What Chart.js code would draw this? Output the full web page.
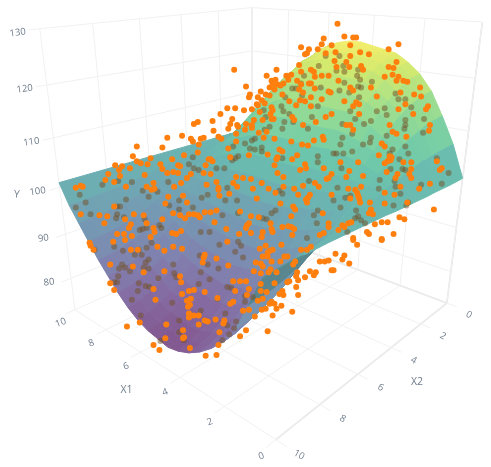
<!DOCTYPE html>
<html lang="en">
<head>
    <meta charset="UTF-8" />
    <title>Surface and samples</title>
    <script src="https://cdn.jsdelivr.net/npm/chart.js"></script>
    <style>
        html, body { margin: 0; background: #fff; }
        canvas { display: block; filter: blur(.5px); }
    </style>
</head>
<body>
    <canvas id="chart" width="491" height="467"></canvas>

    <script>
        const x1Ticks = [0, 2, 4, 6, 8, 10];
        const x2Ticks = [0, 2, 4, 6, 8, 10];
        const yTicks = [80, 90, 100, 110, 120, 130];
        const x1Grid = [0, .5, 1, 1.5, 2, 2.5, 3, 3.5, 4, 4.5, 5, 5.5, 6, 6.5, 7, 7.5, 8, 8.5, 9, 9.5, 10];
        const x2Grid = [0, .5, 1, 1.5, 2, 2.5, 3, 3.5, 4, 4.5, 5, 5.5, 6, 6.5, 7, 7.5, 8, 8.5, 9, 9.5, 10];

        // surface height, one row per x2Grid value, one column per x1Grid value
        const surfaceY = [
            [100.5,107,112,116.5,119.5,121.5,123,123.5,124,124.5,124.5,124,123,121,118.5,115,111,107,104,102,101],
            [100.5,106.9,111.8,116.2,119.2,121.1,122.6,123.1,123.5,124,124,123.5,122.5,120.5,118,115,111,107,104,102,101],
            [100.5,106.8,111.5,115.7,118.5,120.3,121.7,122.2,122.5,123,123,122.5,121.5,120,117.5,114,110.5,106.5,103.5,102,101],
            [100.6,106.6,110.9,114.8,117.4,119.2,120.5,120.8,121.2,121.7,121.7,121.3,120.4,118.6,116.4,113.2,109.6,106,103.4,101.7,101],
            [100.7,106.3,110.2,113.7,116,117.6,118.8,119.1,119.4,119.8,119.9,119.5,118.7,117,115,112,108.7,105.4,103,101.5,101],
            [100.7,105.9,109.3,112.3,114.3,115.7,116.6,116.8,117.1,117.4,117.5,117.2,116.5,115,113.2,110.6,107.5,104.6,102.5,101.2,101],
            [100.8,105.4,108.2,110.6,112.3,113.3,114.1,114.2,114.3,114.6,114.7,114.4,113.9,112.6,111,108.8,106.2,103.6,101.9,101,101],
            [100.9,104.9,107,108.7,109.8,110.6,111.1,111,111.1,111.3,111.5,111.3,110.8,109.8,108.6,106.7,104.6,102.5,101.2,100.6,101],
            [101,104.4,105.7,106.7,107.4,107.9,108.1,107.9,107.9,108,108.2,108.1,107.8,107,106.1,104.7,102.9,101.4,100.5,100.2,101],
            [101.1,103.8,104.3,104.5,104.7,104.7,104.7,104.4,104.2,104.3,104.5,104.4,104.3,103.8,103.2,102.3,101.1,100.1,99.7,99.8,101],
            [101.3,103.3,103,102.5,102.3,102,101.8,101.3,101,101,101.2,101.2,101.2,101,100.7,100.2,99.5,99,99,99.5,101],
            [101.4,102.7,101.7,100.5,99.8,99.3,98.8,98.1,97.8,97.7,98,98.1,98.2,98.2,98.3,98.2,97.9,97.9,98.3,99.1,101],
            [101.5,102.1,100.3,98.3,97.1,96.2,95.4,94.6,94.1,93.9,94.3,94.4,94.7,95,95.4,95.8,96,96.6,97.5,98.7,101],
            [101.6,101.6,99,96.3,94.7,93.4,92.4,91.5,90.9,90.7,91,91.2,91.7,92.2,92.9,93.8,94.4,95.5,96.8,98.4,101],
            [101.7,101.1,97.8,94.4,92.2,90.7,89.4,88.3,87.7,87.4,87.8,88.1,88.6,89.4,90.5,91.7,92.8,94.4,96.1,98,101],
            [101.8,100.6,96.7,92.7,90.2,88.4,86.9,85.7,84.9,84.5,85,85.3,86,87,88.3,89.9,91.4,93.4,95.5,97.7,101],
            [101.9,100.3,95.8,91.3,88.5,86.4,84.8,83.5,82.6,82.2,82.6,83,83.8,85,86.5,88.4,90.3,92.6,95,97.5,101],
            [101.9,100,95.1,90.2,87.1,84.8,83,81.7,80.8,80.3,80.8,81.2,82.1,83.4,85.1,87.3,89.4,92,94.6,97.3,101],
            [102,99.7,94.5,89.3,86,83.7,81.8,80.3,79.4,78.9,79.4,79.9,80.8,82.2,84.1,86.4,88.7,91.5,94.3,97.2,101],
            [102,99.6,94.2,88.8,85.3,82.9,80.9,79.4,78.5,78,78.5,79,80,81.4,83.4,85.8,88.2,91.2,94.1,97,101],
            [102,99.5,94,88.5,85,82.5,80.5,79,78,77.5,78,78.5,79.5,81,83,85.5,88,91,94,97,101]
        ];

        const frontSamples = [
            [234,67],[267,73],[277,67],[246,84],[302,44],[310,46],[319,46],[323,41],[325,35],[333,42],[327,50],[306,51],[308,50],[300,62],[287,73],[292,72],[289,77],
            [272,78],[276,77],[273,82],[278,82],[270,85],[275,87],[281,83],[284,81],[261,89],[250,92],[249,95],[258,95],[266,92],[270,93],[262,98],[257,102],[265,101],[258,103],
            [220,112],[227,106],[235,106],[244,108],[252,107],[272,105],[273,108],[271,112],[260,110],[197,120],[212,119],[232,117],[230,122],[237,123],[246,122],[254,118],[252,123],[263,118],[272,117],
            [312,67],[315,69],[302,69],[323,73],[316,74],[330,73],[310,81],[312,81],[316,86],[298,78],[302,82],[300,87],[330,89],[332,90],[283,92],[304,90],[312,95],[290,99],[301,98],[306,99],[323,97],[312,104],[297,103],[274,117],[293,115],[295,118],[327,115],[317,120],[333,112],[304,123],
            [339,20],[346,33],[355,34],[358,34],[352,42],[391,46],[401,41],[337,49],[362,49],[371,51],[352,53],[399,59],[348,59],[336,58],[338,64],[351,64],[363,63],[365,67],[391,64],[396,65],[395,72],[387,74],[401,74],[399,78],[406,78],[410,79],[340,78],[423,85],[352,85],[373,85],[355,88],[403,90],[417,92],[424,94],[379,94],[346,99],[358,100],[361,102],[355,104],[408,102],[431,104],[429,107],[401,107],[361,112],[416,112],[433,123],[392,123],[352,123],[348,123],[193,122],
            [166,136],[181,134],[190,137],[192,140],[135,145],[161,146],[131,155],[135,160],[139,162],[149,157],[146,163],[171,158],[183,154],[113,164],[120,165],[128,167],[117,169],[159,163],[161,168],[118,175],[106,173],[103,179],[112,181],[143,174],[166,172],[172,171],[177,164],[179,165],[177,172],[190,173],[186,177],[180,182],[152,182],[173,186],[145,186],[153,188],[150,189],[124,186],[78,185],[80,186],[73,187],[167,196],[182,195],[186,202],[164,203],[112,206],[78,214],[172,213],[97,215],[105,216],[132,214],[142,215],[123,219],[161,219],[179,215],[188,214],[193,214],[184,218],[102,223],[145,223],[129,224],[127,228],[152,228],[153,232],[115,234],[122,234],[130,236],[149,237],[171,233],[175,234],[180,231],
            [213,129],[200,137],[203,136],[198,143],[197,151],[228,127],[238,125],[245,128],[252,126],[236,132],[218,135],[221,137],[228,147],[236,140],[259,131],[267,130],[264,136],[275,137],[292,140],[303,143],[309,144],[324,135],[325,138],[315,139],[280,148],[283,150],[268,153],[249,154],[298,154],[293,158],[278,156],[277,158],[275,164],[210,158],[212,160],[208,158],[230,156],[205,164],[203,172],[210,173],[325,167],[306,163],[307,167],[301,169],[278,172],[284,176],[236,176],[243,177],[251,178],[233,182],[216,181],[206,184],[218,187],[218,189],[262,182],[253,188],[237,186],[269,188],[284,186],[295,188],[304,185],[316,182],[320,186],[328,178],[330,177],[333,173],[276,192],[229,193],[219,195],[257,198],[299,194],[311,194],[309,197],[307,199],[308,202],[333,194],[281,203],[294,206],[296,209],[204,212],[210,212],[197,215],[199,217],[216,210],[240,211],[251,216],[259,217],[292,216],[324,213],[214,222],[249,223],[247,225],[246,228],[226,229],[271,223],[272,229],[273,232],[283,227],[289,226],[292,227],[295,229],[330,223],[330,227],[239,234],[251,233],[263,232],[262,237],[293,235],[321,235],[325,233],
            [355,128],[395,130],[399,132],[409,135],[432,129],[384,142],[387,145],[381,154],[392,155],[394,156],[392,158],[393,159],[390,160],[387,162],[406,161],[414,161],[342,161],[360,161],[440,160],[445,167],[443,169],[389,171],[414,168],[412,173],[414,177],[351,170],[348,176],[365,175],[400,173],[398,177],[403,186],[363,186],[350,188],[357,189],[359,192],[360,195],[361,198],[362,202],[387,192],[397,194],[422,188],[433,183],[352,198],[372,202],[387,203],[373,209],[371,213],[375,214],[437,209],[402,217],[407,219],[410,202],[350,223],[353,222],[344,225],[346,227],[377,224],[384,222],[390,222],[340,230],[396,234],[369,232],[371,234],[355,238],[384,239],
            [87,243],[88,246],[91,250],[111,242],[123,240],[129,250],[136,250],[156,247],[163,251],[172,247],[181,249],[108,265],[131,267],[142,273],[163,272],[179,277],[180,283],[108,284],[112,291],[152,290],[188,292],[193,291],[181,295],[154,301],[186,302],[190,300],[189,306],[187,308],[188,315],[188,319],[193,317],[165,326],[182,332],[125,328],[138,324],[183,339],[182,340],[164,340],[189,350],[152,347],[158,352],
            [227,242],[282,245],[266,246],[260,249],[273,250],[268,253],[270,251],[263,257],[268,257],[272,262],[285,257],[288,257],[281,262],[302,250],[308,250],[312,247],[296,262],[294,265],[216,259],[204,255],[203,258],[202,263],[228,266],[256,263],[261,264],[263,267],[271,270],[269,273],[277,273],[254,272],[261,274],[298,273],[297,277],[233,282],[240,282],[246,282],[261,285],[261,292],[235,292],[249,290],[247,296],[204,293],[217,299],[267,293],[263,300],[258,302],[275,284],[288,283],[290,282],[297,288],[299,296],[283,292],[284,296],[280,295],[272,303],[275,305],[277,310],[270,305],[282,307],[262,311],[266,310],[293,313],[273,317],[249,311],[243,312],[255,318],[233,303],[230,305],[198,317],[198,326],[204,322],[207,323],[215,321],[224,322],[223,325],[219,334],[246,332],[240,338],[268,333],[218,347],[205,358],[216,357],
            [306,278],[311,272],[317,273],[315,276],[299,281],[321,262],[326,262],[330,261],[333,271],[337,254],[346,256],[344,260],[351,264],[355,240],[359,245],[384,240],[335,271]
        ];

        // samples under the surface, they show through it
        const hiddenSamples = [
            [320,63],[305,73],[302,81],[293,86],[297,86],[286,95],[303,93],[322,85],[282,104],[284,109],[290,112],[319,104],[313,115],[264,108],[266,115],[285,120],[294,120],[327,53],
            [341,53],[345,63],[338,68],[346,69],[360,67],[359,73],[362,77],[346,80],[374,79],[360,84],[363,85],[341,88],[351,90],[398,91],[401,97],[408,97],[361,95],[387,106],[414,105],[352,109],[379,109],[389,113],[357,117],[373,119],[366,122],[344,122],[427,117],[408,118],[408,123],
            [192,156],[188,163],[193,167],[116,180],[100,184],[130,181],[167,181],[77,194],[83,202],[73,207],[124,199],[141,190],[156,191],[147,196],[178,200],[118,206],[115,206],[88,214],[115,214],[114,218],[122,217],[143,219],[158,225],[168,205],[178,209],[192,207],[138,230],[141,229],[145,228],[160,228],
            [245,142],[233,145],[250,147],[255,148],[262,146],[238,155],[235,157],[232,159],[262,150],[224,167],[198,169],[216,167],[201,197],[207,194],[227,187],[225,200],[237,200],[280,190],[283,193],[319,161],[319,155],[310,180],[283,157],[222,215],[200,232],[209,232],[238,213],[276,210],[272,213],[267,219],[263,218],[315,215],[319,210],[318,223],[308,238],[309,127],[283,127],[270,125],[265,128],[252,139],[255,137],
            [344,136],[354,132],[389,134],[407,127],[426,131],[373,136],[372,141],[365,143],[342,143],[338,152],[335,152],[354,150],[345,152],[395,148],[392,152],[408,145],[411,152],[402,158],[343,167],[393,168],[405,168],[408,169],[452,172],[440,157],[382,179],[397,180],[398,186],[445,183],[424,184],[339,187],[381,188],[403,193],[347,197],[411,202],[409,205],[342,207],[396,205],[358,210],[360,216],[357,218],[363,220],[367,223],[349,232],[352,195],[335,200],
            [92,250],[112,247],[121,251],[133,255],[140,255],[137,250],[145,248],[150,243],[120,265],[123,268],[128,272],[117,269],[147,260],[144,263],[142,268],[147,269],[172,265],[173,274],[175,278],[116,277],[115,283],[112,283],[157,279],[137,284],[144,287],[148,288],[136,292],[130,301],[171,304],[139,317],[178,322],[178,334],[159,343],[183,342],
            [219,245],[235,252],[243,258],[199,256],[207,265],[200,273],[218,269],[209,280],[198,285],[227,288],[231,289],[253,298],[245,303],[217,300],[200,312],[225,315],[236,323],[234,330],[229,336],[222,342],[238,242],[241,246],[245,297],[227,327]
        ];

        const yFloor = 72.5, yTop = 130;

        // box corners as seen in the picture: x1, x2, y, then view plane x, y
        const boxCorners = [
            [10, 10, yFloor, 74, 313], [10, 10, yTop, 37, 23],
            [0, 0, yFloor, 452, 303], [0, 0, yTop, 487, 20],
            [0, 10, yFloor, 273, 443],
            [10, 0, yFloor, 252, 230], [10, 0, yTop, 251, 4]
        ];

        // fit the camera to the corners (least squares, normal equations)
        function fitCamera() {
            const ata = Array.from({ length: 11 }, () => Array(12).fill(0));
            const add = (row, b) => {
                for (let i = 0; i < 11; i++) {
                    for (let j = 0; j < 11; j++) ata[i][j] += row[i] * row[j];
                    ata[i][11] += row[i] * b;
                }
            };
            boxCorners.forEach(([a, b, c, u, v]) => {
                const p = [a / 10, b / 10, (c - 100) / 30];
                u /= 500; v /= 500;
                add([p[0], p[1], p[2], 1, 0, 0, 0, 0, -u * p[0], -u * p[1], -u * p[2]], u);
                add([0, 0, 0, 0, p[0], p[1], p[2], 1, -v * p[0], -v * p[1], -v * p[2]], v);
            });
            for (let i = 0; i < 11; i++) {
                let best = i;
                for (let r = i + 1; r < 11; r++) if (Math.abs(ata[r][i]) > Math.abs(ata[best][i])) best = r;
                [ata[i], ata[best]] = [ata[best], ata[i]];
                for (let r = 0; r < 11; r++) {
                    if (r === i) continue;
                    const f = ata[r][i] / ata[i][i];
                    for (let c = i; c < 12; c++) ata[r][c] -= f * ata[i][c];
                }
            }
            return ata.map((row, i) => row[11] / row[i]);
        }
        const cam = fitCamera();

        function project(x1, x2, y) {
            const a = x1 / 10, b = x2 / 10, c = (y - 100) / 30;
            const w = cam[8] * a + cam[9] * b + cam[10] * c + 1;
            return {
                x: 500 * (cam[0] * a + cam[1] * b + cam[2] * c + cam[3]) / w,
                y: 500 * (cam[4] * a + cam[5] * b + cam[6] * c + cam[7]) / w,
                w
            };
        }

        const viridis = [[68,1,84],[72,36,117],[65,68,135],[53,95,141],[42,120,142],[33,145,140],[34,168,132],[68,191,112],[122,209,81],[189,223,38],[253,231,37]];
        function surfaceColor(y, back) {
            const t = Math.min(.999, Math.max(0, (y - 77) / 48.5)) * 10;
            const i = Math.floor(t), f = t - i;
            // only the teal fold near the front edge reads darker
            const k = back && y > 94 ? .8 : 1;
            const c = viridis[i].map((v, n) => k * (.67 * (v + (viridis[i + 1][n] - v) * f) + .33 * 255));
            return `rgb(${c.map(Math.round).join(',')})`;
        }

        // surface cells, far ones first
        const cells = [];
        for (let j = 0; j < x2Grid.length - 1; j++) {
            for (let i = 0; i < x1Grid.length - 1; i++) {
                const q = [[i, j], [i + 1, j], [i + 1, j + 1], [i, j + 1]].map(([a, b]) => project(x1Grid[a], x2Grid[b], surfaceY[b][a]));
                const area = q.reduce((s, p, n) => s + p.x * q[(n + 1) % 4].y - q[(n + 1) % 4].x * p.y, 0);
                const mean = (surfaceY[j][i] + surfaceY[j][i + 1] + surfaceY[j + 1][i] + surfaceY[j + 1][i + 1]) / 4;
                cells.push({ q, w: q.reduce((s, p) => s + p.w, 0) / 4, color: surfaceColor(mean, area > 0) });
            }
        }
        cells.sort((a, b) => a.w - b.w);

        const line = (from, to, color, width) => ({
            data: [project(...from), project(...to)].map(p => ({ x: p.x, y: p.y })),
            showLine: true, pointRadius: 0, borderColor: color, borderWidth: width, fill: false
        });

        const wallLines = [];
        const thin = '#f1f1f1', edge = '#e0e0e0';
        x1Ticks.forEach(t => {
            wallLines.push(line([t, 0, yFloor], [t, 10.4, yFloor], thin, 1));
            wallLines.push(line([t, 0, yFloor], [t, 0, yTop], thin, 1));
        });
        x2Ticks.forEach(t => {
            wallLines.push(line([0 - .4, t, yFloor], [10, t, yFloor], thin, 1));
            wallLines.push(line([10, t, yFloor], [10, t, yTop], thin, 1));
        });
        yTicks.forEach(t => {
            wallLines.push(line([10, 10.4, t], [10, 0, t], thin, 1));
            wallLines.push(line([10, 0, t], [0, 0, t], thin, 1));
        });
        wallLines.push(line([0, 0, yFloor], [0, 10, yFloor], edge, 1.5));
        wallLines.push(line([0, 0, yFloor], [10, 0, yFloor], edge, 1.5));
        wallLines.push(line([0, 0, yFloor], [0, 0, yTop], edge, 1.5));
        wallLines.push(line([10, 0, yFloor], [10, 0, yTop], edge, 1.5));

        // first dataset ends up on top
        const datasets = [
            { data: frontSamples.map(([x, y]) => ({ x, y })), pointRadius: 3, pointBackgroundColor: '#ff7f0e', pointBorderWidth: 0 },
            { data: hiddenSamples.map(([x, y]) => ({ x, y })), pointRadius: 3, pointBackgroundColor: 'rgba(115,80,35,.5)', pointBorderWidth: 0 }
        ];
        cells.forEach(c => datasets.push({
            data: [...c.q, c.q[0]].map(p => ({ x: p.x, y: p.y })),
            showLine: true, pointRadius: 0, borderColor: c.color, borderWidth: 1, backgroundColor: c.color, fill: 'shape'
        }));
        datasets.push(...wallLines);

        const axisText = {
            id: 'axisText',
            afterDraw(chart) {
                const { ctx, scales: { x, y } } = chart;
                const put = (text, p, dx, dy, angle, font) => {
                    ctx.save();
                    ctx.translate(x.getPixelForValue(p.x) + dx, y.getPixelForValue(p.y) + dy);
                    ctx.rotate(angle * Math.PI / 180);
                    ctx.font = font;
                    ctx.fillStyle = '#6f7c8c';
                    ctx.textAlign = 'center';
                    ctx.textBaseline = 'middle';
                    ctx.fillText(text, 0, 0);
                    ctx.restore();
                };
                const tickFont = '9.5px "Open Sans"', titleFont = '10.5px "Open Sans"';
                x1Ticks.forEach(t => put(String(t), project(t, 10.4, yFloor), -5, 9, -20, tickFont));
                x2Ticks.forEach(t => put(String(t), project(-.4, t, yFloor), 12, 8, 28, tickFont));
                yTicks.forEach(t => put(String(t), project(10, 10, t), -22, 4, -8, tickFont));
                put('X1', project(5, 10, yFloor), -33, 26, 0, titleFont);
                put('X2', project(0, 5, yFloor), 42, 22, 0, titleFont);
                put('Y', project(10, 10, 100), -43, 7, 5, titleFont);
            }
        };

        new Chart(document.getElementById('chart'), {
            type: 'scatter',
            data: { datasets },
            options: {
                responsive: false,
                animation: false,
                events: [],
                layout: { padding: 0 },
                plugins: { legend: { display: false }, tooltip: { enabled: false } },
                scales: {
                    x: { type: 'linear', display: false, min: 0, max: 491 },
                    y: { type: 'linear', display: false, min: 0, max: 467, reverse: true }
                }
            },
            plugins: [axisText]
        });
    </script>
</body>
</html>
